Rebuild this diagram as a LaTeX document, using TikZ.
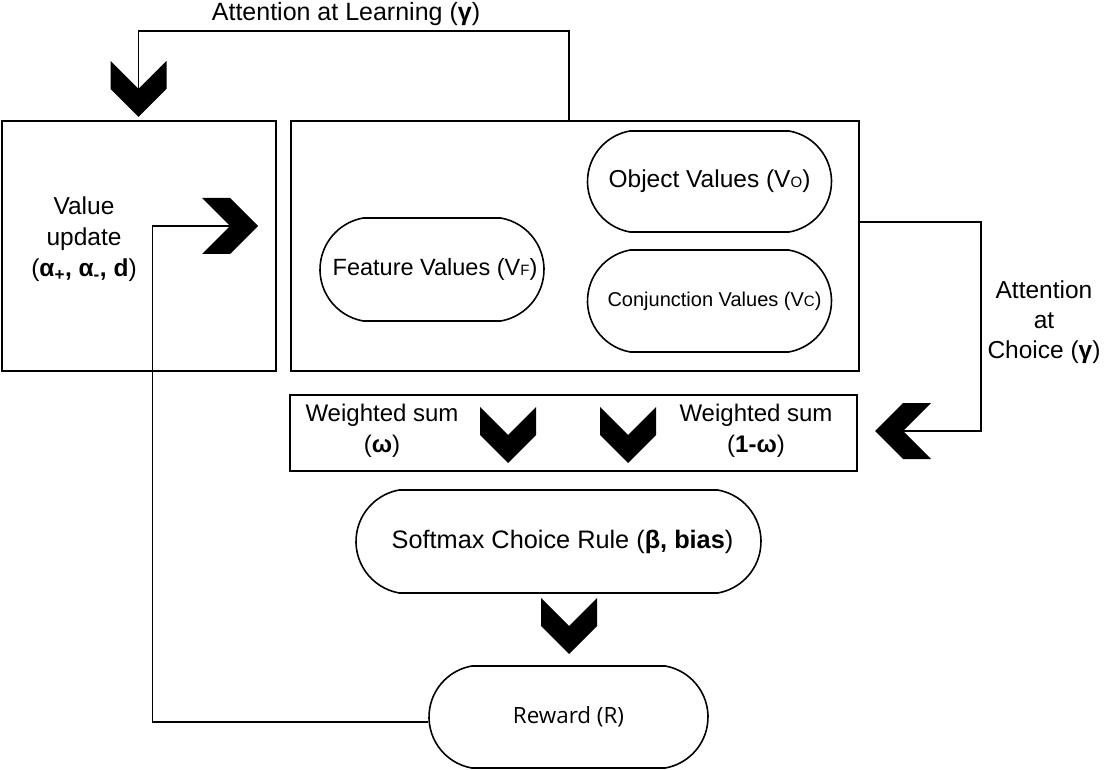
\documentclass[tikz,border=0pt]{standalone}
\usepackage{fontspec}
\setmainfont{Liberation Sans}
\newfontfamily\rewardfont{Open Sans}
\usetikzlibrary{positioning,shapes.misc}
\newcommand{\vsub}[1]{{\fontsize{15}{15}\selectfont #1}}

\begin{document}
\begin{tikzpicture}[
    x=1pt, y=-1pt,
    line width=1.4pt,
    box/.style={draw, line width=1.6pt, inner sep=0pt},
    pill/.style={draw, line width=1.6pt, rounded rectangle, rounded rectangle arc length=160,
      inner sep=0pt, align=center},
    lbl/.style={align=center, font=\fontsize{25}{31}\selectfont},
    chev/.pic={
      \fill (0,0) -- (-28,-28) -- (-56,-28) -- (-28,0) -- (-56,28) -- (-28,28) -- cycle;
      \coordinate (-notch) at (-28,0);
    },
  ]
  \useasboundingbox (0,0) rectangle (1106,770);

  % === Boxes ===
  \node[box, minimum width=274pt, minimum height=250pt] (update) at (139,246) {};
  \node[lbl, font=\fontsize{24.5}{31}\selectfont] (updtext) at (84,239)
    {Value\\update\\(\textbf{α\textsubscript{+}, α\textsubscript{-}, d})};
  \node[box, minimum width=568pt, minimum height=250pt] (values) at (575,246) {};
  \node[box, minimum width=567pt, minimum height=76pt] (wsum) at (573.5,433) {};

  % === Value pills ===
  \node[pill, minimum width=244pt, minimum height=101pt, font=\fontsize{24.5}{28}\selectfont]
    (objv) at (709.5,181.5) {Object Values (V\vsub{O})};
  \node[pill, minimum width=244pt, minimum height=102pt, font=\fontsize{20}{26}\selectfont]
    (conjv) at (709.5,301) {\hspace*{10pt}Conjunction Values (V\vsub{C})};
  \node[pill, minimum width=224pt, minimum height=103pt, font=\fontsize{23.5}{28}\selectfont]
    (featv) at (432,269.5) {\hspace*{6pt}Feature Values (V\vsub{F})};

  % === Weighted sums ===
  \node[lbl, font=\fontsize{24}{31}\selectfont] (wleft) at (382,431) {Weighted sum\\(\textbf{ω})};
  \node[lbl, font=\fontsize{24}{31}\selectfont] (wright) at (756,431) {Weighted sum\\(\textbf{1-ω})};

  % === Choice and reward ===
  \node[pill, minimum width=405pt, minimum height=103pt, font=\fontsize{25.3}{28}\selectfont]
    (softmax) at (558.5,541.5) {\hspace*{8pt}Softmax Choice Rule (\textbf{β, bias})};
  \node[pill, minimum width=279pt, minimum height=102pt, font=\rewardfont\fontsize{22.4}{26}\selectfont]
    (reward) at (568.5,717) {Reward (R)};

  % === Attention labels ===
  \node[lbl] (learnlbl) at (346,14) {Attention at Learning (\textbf{γ})};
  \node[lbl, font=\fontsize{24.5}{30}\selectfont] (choicelbl) at (1044,322) {Attention\\at\\Choice (\textbf{γ})};

  % === Chevrons ===
  \pic[rotate=-90] (cvlearn) at (138.5,117) {chev};
  \pic (cvupd) at (258,226) {chev};
  \pic[rotate=180] (cvchoice) at (875,431) {chev};
  \foreach \x/\n in {508/wl, 628/wr} { \pic[rotate=-90] (cv\n) at (\x,463) {chev}; }
  \pic[rotate=-90] (cvrew) at (569,654) {chev};

  % === Connectors ===
  \draw ([xshift=-6pt]values.north) -- ++(0,-89) -| (cvlearn-notch);
  \draw ([yshift=24pt]values.east) -- ++(121,0) |- (cvchoice-notch);
  \draw ([yshift=-5pt]reward.west) -- ++(-276,0) |- (cvupd-notch);

\end{tikzpicture}
\end{document}
